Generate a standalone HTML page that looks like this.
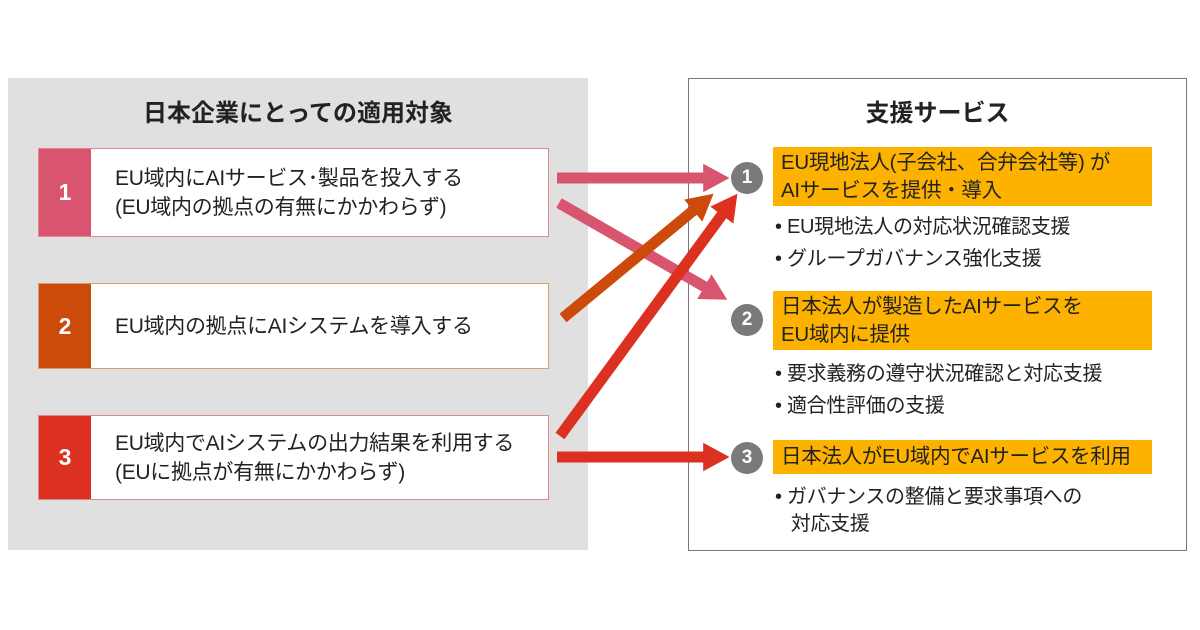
<!DOCTYPE html>
<html><head><meta charset="utf-8"><style>
body{margin:0;width:1200px;height:630px;background:#fff;position:relative;overflow:hidden;font-family:"Liberation Sans","Noto Sans CJK JP",sans-serif;color:#222}
.a{position:absolute}
.lp{left:8px;top:78px;width:580px;height:472px;background:#e0e0e0}
.rp{left:688px;top:78px;width:497px;height:471px;border:1px solid #777;background:#fff}
.t{font-weight:bold;font-size:24px;text-align:center}
.box{left:38px;width:509px;background:#fff;border:1px solid #d88}
.num{position:absolute;left:0;top:0;bottom:0;width:52px;color:#fff;font-weight:bold;font-size:23px;display:flex;align-items:center;justify-content:center}
.bt{position:absolute;left:76px;top:0;bottom:0;display:flex;flex-direction:column;justify-content:center;font-size:21px;line-height:29px;white-space:nowrap;letter-spacing:-0.3px}
.bar{left:773px;width:379px;background:#fdb200;font-size:20.5px;line-height:28px;padding-left:8px;box-sizing:border-box;display:flex;flex-direction:column;justify-content:center;white-space:nowrap;letter-spacing:-0.3px}
.c{width:32px;height:32px;border-radius:50%;background:#7a7a7a;color:#fff;font-weight:bold;font-size:19px;text-align:center;line-height:32px}
.bl{left:775px;font-size:20px;line-height:27px;white-space:nowrap;letter-spacing:-0.3px}
</style></head><body>
<div class="a lp"></div>
<div class="a rp"></div>
<div class="a t" style="left:8px;width:580px;top:93px">日本企業にとっての適用対象</div>
<div class="a t" style="left:688px;width:499px;top:93px">支援サービス</div>

<div class="a box" style="top:148px;height:87px"><div class="num" style="background:#d9546e">1</div><div class="bt"><div>EU域内にAIサービス･製品を投入する</div><div>(EU域内の拠点の有無にかかわらず)</div></div></div>
<div class="a box" style="top:283px;height:84px;border-color:#d9a070"><div class="num" style="background:#cc4a0a">2</div><div class="bt"><div>EU域内の拠点にAIシステムを導入する</div></div></div>
<div class="a box" style="top:415px;height:83px"><div class="num" style="background:#dc3020">3</div><div class="bt"><div>EU域内でAIシステムの出力結果を利用する</div><div>(EUに拠点が有無にかかわらず)</div></div></div>

<svg class="a" style="left:0;top:0" width="1200" height="630">
<defs>
<marker id="m1" markerWidth="2.4" markerHeight="2.6" refX="0.8" refY="1.3" orient="auto" markerUnits="strokeWidth"><path d="M0,0L2.4,1.3L0,2.6z" fill="#d9546e"/></marker>
<marker id="m2" markerWidth="2.4" markerHeight="2.6" refX="0.8" refY="1.3" orient="auto" markerUnits="strokeWidth"><path d="M0,0L2.4,1.3L0,2.6z" fill="#cc4a0a"/></marker>
<marker id="m3" markerWidth="2.4" markerHeight="2.6" refX="0.8" refY="1.3" orient="auto" markerUnits="strokeWidth"><path d="M0,0L2.4,1.3L0,2.6z" fill="#dc3020"/></marker>
</defs>
<g stroke-width="11" fill="none">
<line x1="557" y1="178" x2="712" y2="178" stroke="#d9546e" marker-end="url(#m1)"/>
<line x1="559" y1="203" x2="712" y2="291" stroke="#d9546e" marker-end="url(#m1)"/>
<line x1="563" y1="318" x2="700" y2="205" stroke="#cc4a0a" marker-end="url(#m2)"/>
<line x1="560" y1="436" x2="727" y2="208" stroke="#dc3020" marker-end="url(#m3)"/>
<line x1="557" y1="457" x2="712" y2="457" stroke="#dc3020" marker-end="url(#m3)"/>
</g>
</svg>

<div class="a c" style="left:731px;top:162px">1</div>
<div class="a c" style="left:731px;top:304px">2</div>
<div class="a c" style="left:731px;top:442px">3</div>

<div class="a bar" style="top:147px;height:59px"><div>EU現地法人(子会社、合弁会社等) が</div><div>AIサービスを提供・導入</div></div>
<div class="a bar" style="top:291px;height:59px"><div>日本法人が製造したAIサービスを</div><div>EU域内に提供</div></div>
<div class="a bar" style="top:440px;height:34px"><div>日本法人がEU域内でAIサービスを利用</div></div>

<div class="a bl" style="top:214px">• EU現地法人の対応状況確認支援</div>
<div class="a bl" style="top:246px">• グループガバナンス強化支援</div>
<div class="a bl" style="top:361px">• 要求義務の遵守状況確認と対応支援</div>
<div class="a bl" style="top:393px">• 適合性評価の支援</div>
<div class="a bl" style="top:484px">• ガバナンスの整備と要求事項への<br>&nbsp;&nbsp;&nbsp;対応支援</div>
</body></html>
